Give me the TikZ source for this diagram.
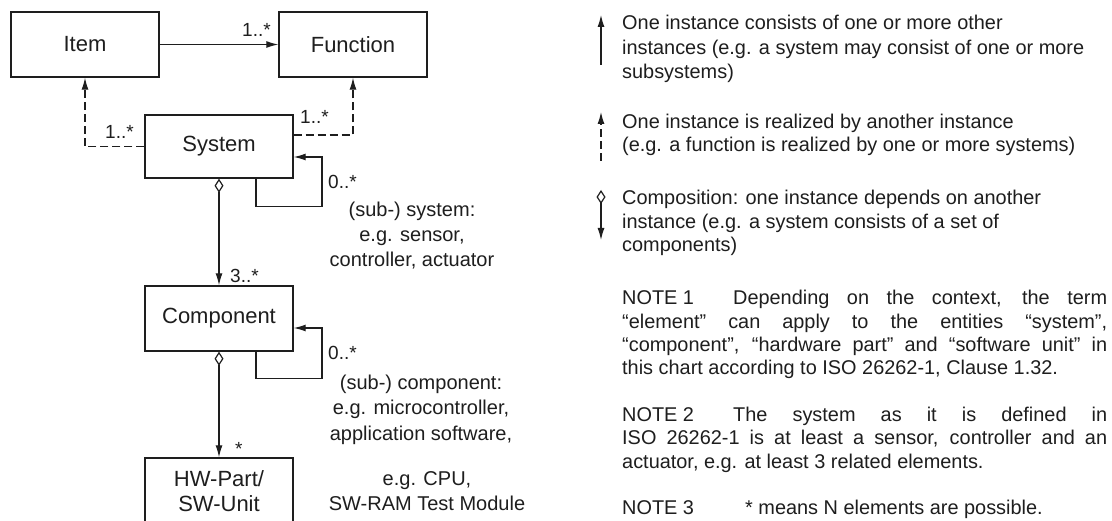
\documentclass[tikz,border=0pt]{standalone}
\usepackage{fontspec}
\setmainfont{Liberation Sans}
\usetikzlibrary{arrows.meta}
\definecolor{ink}{HTML}{1E1E1E}
\begin{document}
\begin{tikzpicture}[x=1pt,y=-1pt,
  box/.style={draw=ink, line width=1.4pt, minimum width=148pt, minimum height=65pt, inner sep=0pt, font=\fontsize{22}{25}\selectfont, align=center, text=ink},
  arr/.style={draw=ink, line width=1.2pt, -{Latex[length=12pt,width=7pt]}},
  dasharr/.style={arr, dash pattern=on 8pt off 4pt},
  compo/.style={draw=ink, line width=1.2pt, {Diamond[open,length=14pt,width=9pt,fill=white]}-{Latex[length=12pt,width=7pt]}},
  lbl/.style={inner sep=0pt, anchor=base west, font=\fontsize{19}{22}\selectfont, text=ink},
  txt/.style={inner sep=0pt, anchor=base west, font=\fontsize{19.9}{23.4}\selectfont, text=ink},
  ctxt/.style={inner sep=0pt, anchor=base, font=\fontsize{20}{24}\selectfont, text=ink},
]
\useasboundingbox (0,0) rectangle (1112,521);
\clip (0,0) rectangle (1112,521);
\fill[white] (0,0) rectangle (1112,521);

% boxes
\node[box] (item) at (85,44.5) {Item};
\node[box] (func) at (353,44.5) {Function};
\node[box, minimum height=63pt] (sys) at (219,146.5) {System};
\node[box] (comp) at (219,318.5) {Component};
\node[box, minimum height=66pt] (hw) at (219,491) {HW-Part/\\SW-Unit};

% connectors
\draw[arr] (item) -- (func);
\draw[dasharr] (sys.west) -| (item.south);
\draw[dasharr] ([yshift=11.5pt]sys.east) -| (func.south);
\draw[arr] ([xshift=37pt]sys.south) -- ++(0,28) -- ++(66,0) |- ([yshift=-10.5pt]sys.east);
\draw[arr] ([xshift=37pt]comp.south) -- ++(0,27) -- ++(66,0) |- ([yshift=-9.5pt]comp.east);
\draw[compo] (sys.south) -- (comp.north);
\draw[compo] (comp.south) -- (hw.north);

% multiplicities
\node[lbl] (m1) at (242,37) {1..*};
\node[lbl] (m2) at (105,139) {1..*};
\node[lbl] (m3) at (300,124) {1..*};
\node[lbl] (m4) at (328,189) {0..*};
\node[lbl] (m5) at (230,283) {3..*};
\node[lbl] (m6) at (328,360) {0..*};
\node[lbl] (m7) at (235,455) {*};

% side texts
\node[ctxt] (s1) at (412,217) {(sub-) system:};
\node[ctxt] (s2) at (412,242) {e.g. sensor,};
\node[ctxt] (s3) at (412,267) {controller, actuator};
\node[ctxt] (c1) at (421,390) {(sub-) component:};
\node[ctxt] (c2) at (421,415) {e.g. microcontroller,};
\node[ctxt] (c3) at (421,440) {application software,};
\node[ctxt] (c4) at (427,485) {e.g. CPU,};
\node[ctxt] (c5) at (427,510) {SW-RAM Test Module};

% legend symbols
\coordinate (la1) at (601,65);
\coordinate (lb1) at (601,15);
\coordinate (la2) at (601,161);
\coordinate (lb2) at (601,112);
\coordinate (la3) at (601,190);
\coordinate (lb3) at (601,240);
\draw[arr] (la1) -- (lb1);
\draw[dasharr] (la2) -- (lb2);
\draw[compo] (la3) -- (lb3);

% legend texts
\node[txt] (t1) at (622,30) {One instance consists of one or more other};
\node[txt] (t2) at (622,55) {instances (e.g. a system may consist of one or more};
\node[txt] (t3) at (622,79) {subsystems)};
\node[txt] (t4) at (622,129) {One instance is realized by another instance};
\node[txt] (t5) at (622,152) {(e.g. a function is realized by one or more systems)};
\node[txt] (t6) at (622,205) {Composition: one instance depends on another};
\node[txt] (t7) at (622,229) {instance (e.g. a system consists of a set of};
\node[txt] (t8) at (622,252) {components)};

% notes
\node[txt] (n1) at (622,305) {\makebox[111pt][l]{NOTE 1}\makebox[374pt][s]{Depending on the context, the term}};
\node[txt] (n2) at (622,329) {\makebox[485pt][s]{“element” can apply to the entities “system”,}};
\node[txt] (n3) at (622,352) {\makebox[485pt][s]{“component”, “hardware part” and “software unit” in}};
\node[txt] (n4) at (622,375) {this chart according to ISO 26262-1, Clause 1.32.};
\node[txt] (n5) at (622,422) {\makebox[111pt][l]{NOTE 2}\makebox[374pt][s]{The system as it is defined in}};
\node[txt] (n6) at (622,445) {\makebox[485pt][s]{ISO 26262-1 is at least a sensor, controller and an}};
\node[txt] (n7) at (622,468) {actuator, e.g. at least 3 related elements.};
\node[txt] (n8) at (622,514) {\makebox[123pt][l]{NOTE 3}* means N elements are possible.};
\end{tikzpicture}
\end{document}
